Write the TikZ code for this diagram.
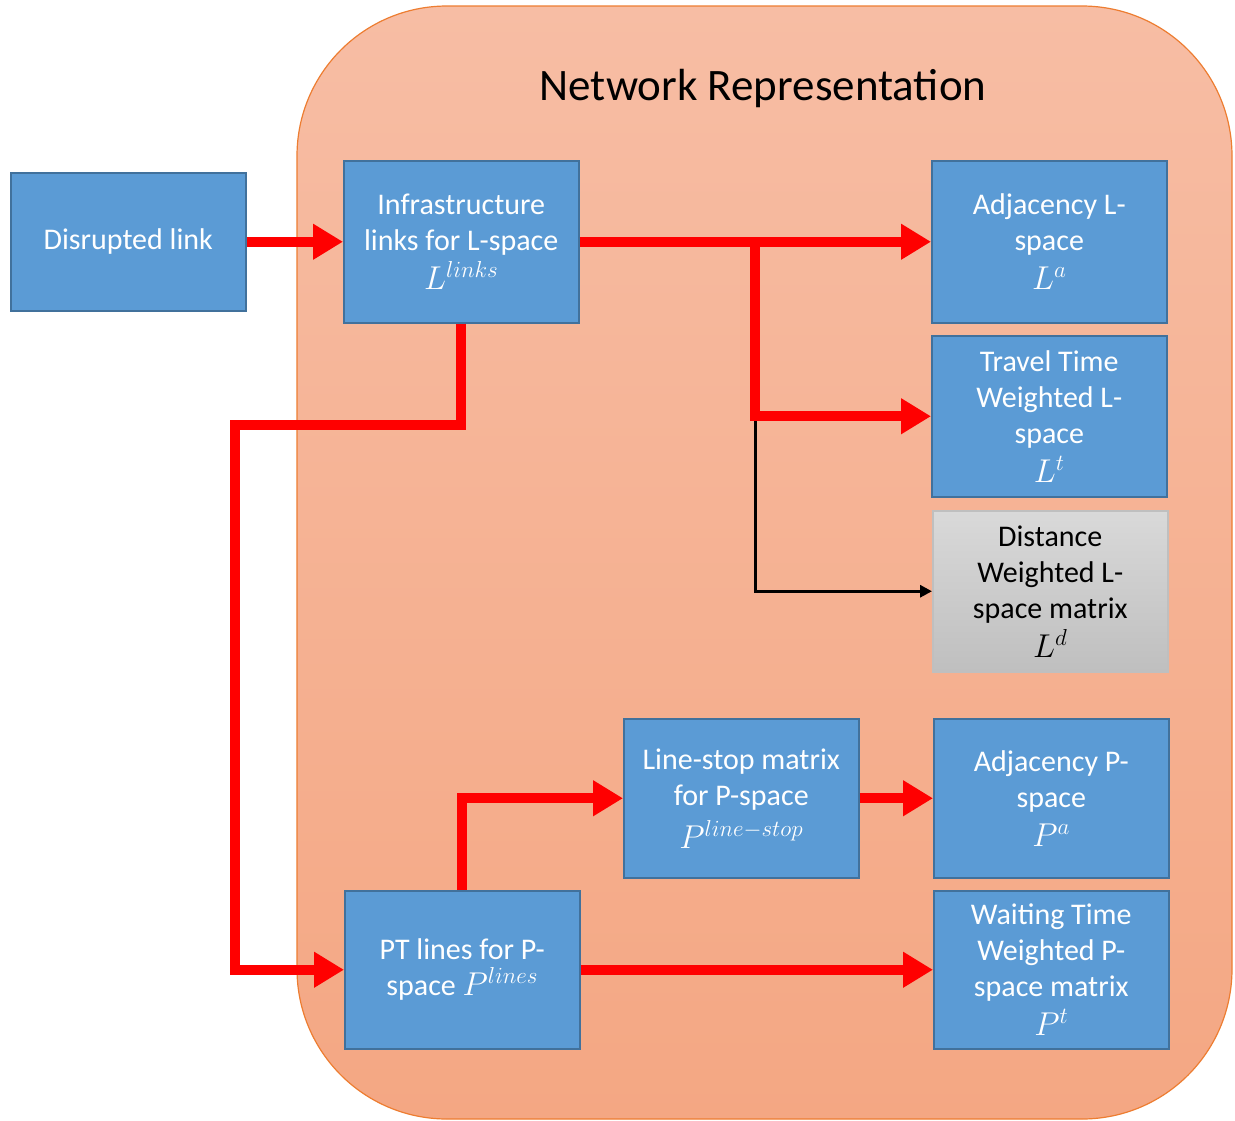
\documentclass[tikz,border=0pt]{standalone}
\usepackage{fix-cm}
\usepackage{fontspec}
\setmainfont{Carlito}
\usetikzlibrary{arrows.meta}
\definecolor{boxblue}{HTML}{5B9BD5}
\definecolor{boxborder}{HTML}{41719C}
\definecolor{contTop}{HTML}{F7BDA4}
\definecolor{contBot}{HTML}{F4A783}
\definecolor{contBorder}{HTML}{ED7D31}
\definecolor{grayTop}{HTML}{D9D9D9}
\definecolor{grayBot}{HTML}{BFBFBF}
\definecolor{arrowred}{HTML}{FF0000}
\newcommand{\mymath}[1]{{\fontsize{33}{36}\selectfont$#1$}}
\begin{document}
\begin{tikzpicture}[x=1pt,y=-1pt,
  box/.style={draw=boxborder, line width=1.5pt, fill=boxblue, text=white,
    align=center, font=\fontsize{30}{36}\selectfont, inner sep=0pt,
    minimum width=235pt, anchor=north west},
  graybox/.style={box, fill=none, draw=grayBot, top color=grayTop, bottom color=grayBot, text=black},
  redarrow/.style={draw=arrowred, line width=10pt, line join=miter,
    -{Triangle[length=30pt,width=34pt]}},
  blackarrow/.style={draw=black, line width=3pt, line join=miter,
    -{Triangle[length=12pt,width=12pt]}}
]
\useasboundingbox (0,0) rectangle (1235,1120);
% container
\path[draw=contBorder, line width=1.2pt, top color=contTop, bottom color=contBot,
  rounded corners=150pt] (297,6) rectangle (1232,1119);
\node[font=\fontsize{45}{52}\selectfont, anchor=center] (title) at (763,88) {Network Representation};

% nodes
\node[box, minimum height=138pt] (dis) at (10,172) {Disrupted link};
\node[box, minimum height=162pt] (infra) at (343,160) {Infrastructure\\links for L-space\\[3pt]\mymath{L^{links}}};
\node[box, minimum height=162pt] (adjL) at (931,160) {Adjacency L-\\space\\[3pt]\mymath{L^{a}}};
\node[box, minimum height=161pt] (tt) at (931,335) {Travel Time\\Weighted L-\\space\\[3pt]\mymath{L^{t}}};
\node[graybox, minimum height=161pt] (dist) at (932,510) {Distance\\Weighted L-\\space matrix\\[3pt]\mymath{L^{d}}};
\node[box, minimum height=159pt] (ls) at (623,718) {Line-stop matrix\\for P-space\\[7pt]\mymath{P^{line-stop}}};
\node[box, minimum height=159pt] (adjP) at (933,718) {Adjacency P-\\space\\[3pt]\mymath{P^{a}}};
\node[box, minimum height=158pt] (pt) at (344,890) {PT lines for P-\\space \mymath{P^{lines}}};
\node[box, minimum height=158pt] (wt) at (933,890) {Waiting Time\\Weighted P-\\space matrix\\[3pt]\mymath{P^{t}}};

% helper coordinates
\coordinate (br) at (755,241);
\coordinate (blk) at (755,416);
\coordinate (bendA) at (235,425);

% black connector
\draw[blackarrow] (blk) |- (dist.west);

% red connectors
\draw[redarrow] (dis.east) -- (infra.west);
\draw[redarrow] (infra.east) -- (adjL.west);
\draw[redarrow] (br) |- (tt.west);
\draw[redarrow] (infra.south) |- (bendA) |- (pt.west);
\draw[redarrow] (pt.north) |- (ls.west);
\draw[redarrow] (ls.east) -- (adjP.west);
\draw[redarrow] (pt.east) -- (wt.west);
\end{tikzpicture}
\end{document}
